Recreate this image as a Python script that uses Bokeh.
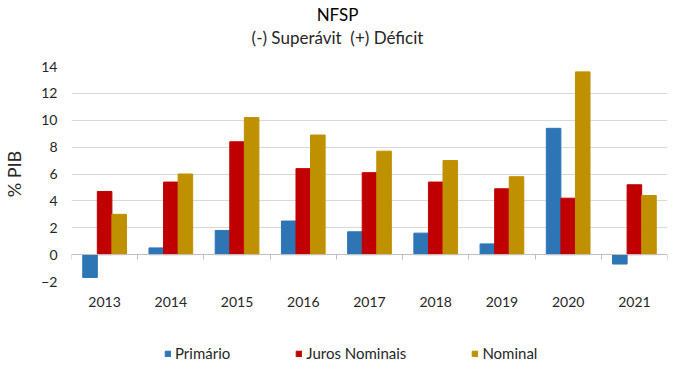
from bokeh.plotting import figure
from bokeh.layouts import column
from bokeh.models import (ColumnDataSource, Range1d, LinearAxis, FixedTicker,
                          Legend, LegendItem, Label)
from bokeh.transform import dodge
from bokeh.embed import file_html
from bokeh.resources import INLINE

years = ["2013", "2014", "2015", "2016", "2017", "2018", "2019", "2020", "2021"]
primario = [-1.7, 0.5, 1.8, 2.5, 1.7, 1.6, 0.8, 9.4, -0.7]
juros = [4.7, 5.4, 8.4, 6.4, 6.1, 5.4, 4.9, 4.2, 5.2]
nominal = [3.0, 6.0, 10.2, 8.9, 7.7, 7.0, 5.8, 13.6, 4.4]
y_ticks = [-2, 0, 2, 4, 6, 8, 10, 12, 14]
series = ["Primário", "Juros Nominais", "Nominal"]
colors = ["#2E75B6", "#C00000", "#BF9000"]

FONT = "Lato"
TXT = "#262626"
W = 673
BL, BR = 69, 6

n = len(years)
centers = [i + 0.5 for i in range(n)]
src = ColumnDataSource(dict(xc=centers, primario=primario, juros=juros, nominal=nominal))
cols = ["primario", "juros", "nominal"]
w = 0.22

# ---- title strip ----
tf = figure(width=W, height=52, x_axis_location=None, y_axis_location=None,
            output_backend="svg", toolbar_location=None,
            min_border_left=BL, min_border_right=BR, min_border_top=0, min_border_bottom=0)
tf.grid.visible = False
tf.outline_line_color = None
tf.add_layout(Label(x=266, y=38, x_units="screen", y_units="screen", text="NFSP",
                    text_align="center", text_baseline="middle", text_font=FONT,
                    text_font_size="17px", text_color="#000000"))
tf.add_layout(Label(x=266, y=15, x_units="screen", y_units="screen",
                    text="(-) Superávit\u00a0\u00a0(+) Déficit",
                    text_align="center", text_baseline="middle", text_font=FONT,
                    text_font_size="17px", text_color=TXT))

# ---- main chart ----
p = figure(x_range=Range1d(0, n), y_range=Range1d(-2, 14),
           width=W, height=274, output_backend="svg", toolbar_location=None,
           min_border_left=BL, min_border_right=BR, min_border_top=14, min_border_bottom=45)
p.outline_line_color = None
p.background_fill_color = "white"

for k, (col, c) in enumerate(zip(cols, colors)):
    p.vbar(x=dodge("xc", (k - 1) * w), top=col, width=w, source=src,
           fill_color=c, line_color=c)

p.xgrid.grid_line_color = None
p.ygrid.grid_line_color = "#D9D9D9"
p.ygrid.ticker = FixedTicker(ticks=y_ticks)

ya = p.yaxis[0]
ya.ticker = FixedTicker(ticks=y_ticks)
ya.axis_line_color = None
ya.major_tick_line_color = None
ya.minor_tick_line_color = None
ya.major_label_standoff = 8
ya.major_label_text_font = FONT
ya.major_label_text_font_size = "14px"
ya.major_label_text_color = TXT
ya.axis_label = "% PIB"
ya.axis_label_text_font = FONT
ya.axis_label_text_font_size = "18px"
ya.axis_label_text_font_style = "normal"
ya.axis_label_text_color = TXT
ya.axis_label_standoff = 13

xa = p.xaxis[0]
xa.ticker = FixedTicker(ticks=centers)
xa.major_label_overrides = {c: y for c, y in zip(centers, years)}
xa.axis_line_color = None
xa.major_tick_line_color = None
xa.minor_tick_line_color = None
xa.major_label_standoff = 9
xa.major_label_text_font = FONT
xa.major_label_text_font_size = "14px"
xa.major_label_text_color = TXT

za = LinearAxis(ticker=FixedTicker(ticks=list(range(n + 1))), fixed_location=0)
za.axis_line_color = "#BFBFBF"
za.major_tick_line_color = "#BFBFBF"
za.major_tick_out = 5
za.major_tick_in = 0
za.minor_tick_line_color = None
za.major_label_text_font_size = "0px"
za.major_label_text_color = None
p.add_layout(za, "below")

# ---- legend strip (same data; its range keeps the bars out of view) ----
lp = figure(x_range=Range1d(0, n), y_range=Range1d(100, 101), width=W, height=36,
            x_axis_location=None, y_axis_location=None,
            output_backend="svg", toolbar_location=None,
            min_border_left=BL, min_border_right=BR, min_border_top=0, min_border_bottom=0)
lp.grid.visible = False
lp.outline_line_color = None
items = []
for k, (col, c, name) in enumerate(zip(cols, colors, series)):
    r = lp.vbar(x=dodge("xc", (k - 1) * w), top=col, width=w, source=src,
                fill_color=c, line_color=c)
    items.append(LegendItem(label=name, renderers=[r]))
legend = Legend(items=items, orientation="horizontal", location=(93, 0),
                spacing=65, padding=0, margin=0, glyph_width=7, glyph_height=7,
                label_standoff=4, label_height=14, label_text_font=FONT,
                label_text_font_size="15px", label_text_color=TXT,
                border_line_color=None, background_fill_alpha=0)
lp.add_layout(legend)

open("out.html", "w").write(file_html(column(tf, p, lp), INLINE))
